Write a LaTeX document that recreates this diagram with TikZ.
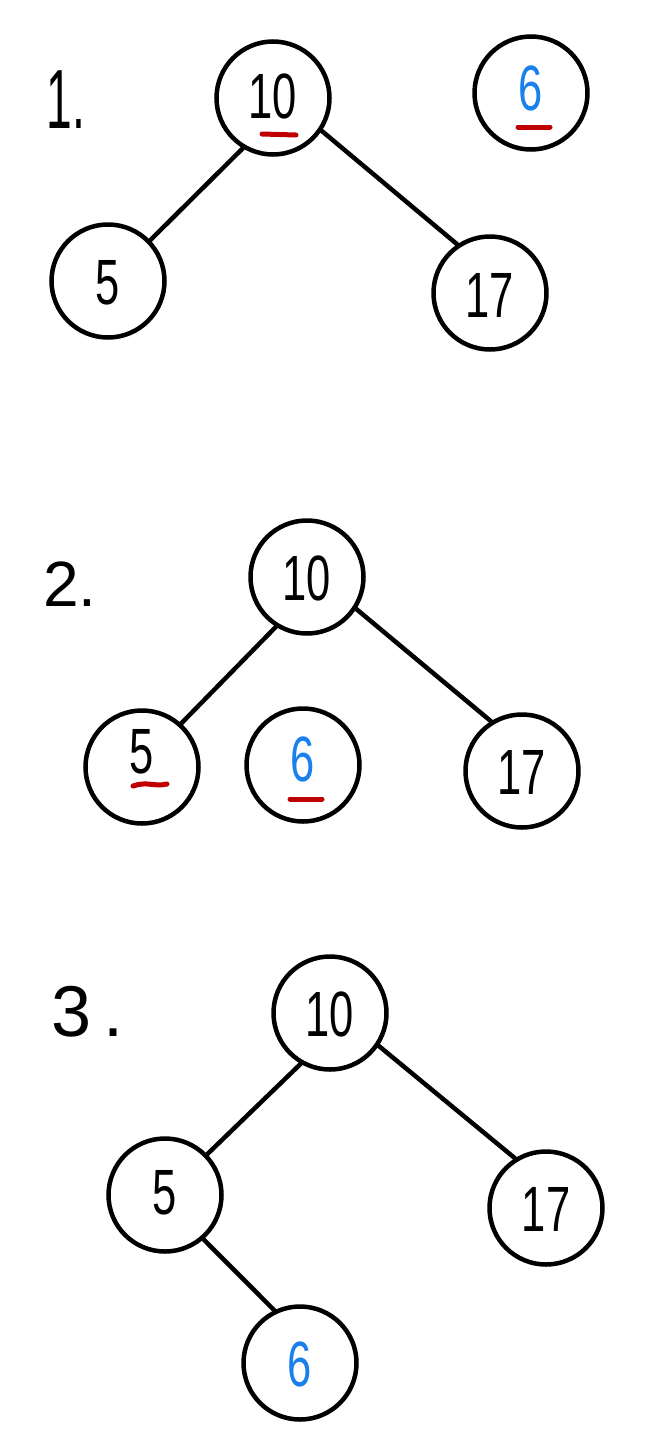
\documentclass[tikz,border=0pt]{standalone}
\usepackage{fontspec}
\usepackage{graphicx}
\setmainfont{Liberation Sans}
\usetikzlibrary{calc}
\definecolor{inkblue}{HTML}{1A80EC}
\definecolor{inkred}{HTML}{C00000}
\newcommand\handtxt[2][0]{\raisebox{\dimexpr-23pt+#1pt\relax}[0pt][0pt]{\scalebox{0.68}[1]{#2}}}
\begin{document}
\begin{tikzpicture}[x=1pt,y=-1pt,
  vert/.style={circle,draw=black,line width=4.5pt,minimum size=113pt,inner sep=0pt,
    font=\fontsize{64}{64}\selectfont},
  edge/.style={line width=4.5pt,line cap=round},
  uline/.style={line width=5pt,line cap=round,draw=inkred},
  steplabel/.style={inner sep=0pt}]
\useasboundingbox[fill=white] (0,0) rectangle (669,1440);

% ---------- 1 ----------
\node[steplabel,font=\fontsize{84}{84}\selectfont] (s1) at (66,100) {\scalebox{0.55}[1]{1.}};
\node[vert] (a10) at (273,98) {\handtxt[3]{10}};
\node[vert,text=inkblue] (a6) at (531,93) {\handtxt[6]{6}};
\node[vert] (a5) at (108,281) {\handtxt{5}};
\node[vert] (a17) at (490,293) {\handtxt[-1]{17}};
\draw[edge] (a10.239) -- (a5.44);
\draw[edge] (a10.-34) -- (a17.124);
\draw[uline] ($(a10.center)+(-11,36)$) -- ($(a10.center)+(23,37)$);
\draw[uline] ($(a6.center)+(-13,34)$) -- ($(a6.center)+(19,34)$);

% ---------- 2 ----------
\node[steplabel,font=\fontsize{64}{64}\selectfont] (s2) at (70,584) {2.};
\node[vert] (b10) at (307,577) {\handtxt{10}};
\node[vert] (b5) at (142,767) {\handtxt[17]{5}};
\node[vert,text=inkblue] (b6) at (303,765) {\handtxt[7]{6}};
\node[vert] (b17) at (522,771) {\handtxt{17}};
\draw[edge] (b10.238) -- (b5.48);
\draw[edge] (b10.-33) -- (b17.122);
\draw[uline] ($(b5.center)+(-9,19)$) .. controls ($(b5.center)+(5,14)$) and ($(b5.center)+(12,20)$) .. ($(b5.center)+(25,17)$);
\draw[uline] ($(b6.center)+(-13,34)$) -- ($(b6.center)+(19,34)$);

% ---------- 3 ----------
\node[steplabel,font=\fontsize{72}{72}\selectfont] (s3) at (88,1012) {3\,.};
\node[vert] (c10) at (330,1013) {\handtxt{10}};
\node[vert] (c5) at (165,1195) {\handtxt[4]{5}};
\node[vert] (c17) at (546,1208) {\handtxt{17}};
\node[vert,text=inkblue] (c6) at (300,1363) {\handtxt{6}};
\draw[edge] (c10.240) -- (c5.44);
\draw[edge] (c10.-34) -- (c17.122);
\draw[edge] (c5.-49) -- (c6.116);
\end{tikzpicture}
\end{document}
